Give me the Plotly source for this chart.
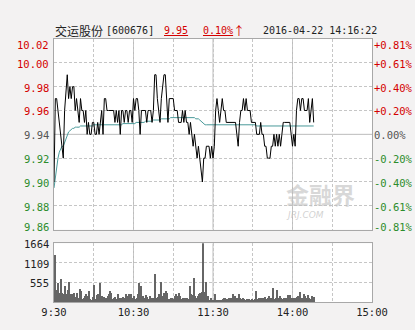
import plotly.graph_objects as go

# ---------------- data ----------------
time_ticks = [0, 30, 60, 90, 120, 150, 180, 210, 240]
time_labels = ["9:30", "", "10:30", "", "11:30", "", "14:00", "", "15:00"]

price_ticks = [10.02, 10.00, 9.98, 9.96, 9.94, 9.92, 9.90, 9.88, 9.86]
price_labels = ["10.02", "10.00", "9.98", "9.96", "9.94", "9.92", "9.90", "9.88", "9.86"]
pct_labels = ["+0.81%", "+0.61%", "+0.40%", "+0.20%", "0.00%", "-0.20%", "-0.40%", "-0.61%", "-0.81%"]
prev_close = 9.94

vol_ticks = [1664, 1109, 555]
vol_labels = ["1664", "1109", "555"]

price = [
    9.90, 9.97, 9.97, 9.96, 9.95, 9.94, 9.93, 9.92, 9.96, 9.98,
    9.99, 9.97, 9.98, 9.97, 9.98, 9.98, 9.96, 9.97, 9.96, 9.95,
    9.97, 9.96, 9.96, 9.95, 9.96, 9.94, 9.95, 9.94, 9.94, 9.95,
    9.95, 9.94, 9.94, 9.95, 9.94, 9.95, 9.96, 9.94, 9.97, 9.97,
    9.96, 9.96, 9.96, 9.96, 9.96, 9.96, 9.95, 9.96, 9.95, 9.96,
    9.94, 9.96, 9.96, 9.95, 9.96, 9.96, 9.95, 9.96, 9.96, 9.95,
    9.97, 9.96, 9.97, 9.97, 9.96, 9.94, 9.96, 9.96, 9.96, 9.96,
    9.95, 9.96, 9.96, 9.96, 9.95, 9.96, 9.99, 9.99, 9.97, 9.96,
    9.95, 9.97, 9.98, 9.99, 9.99, 9.97, 9.95, 9.97, 9.97, 9.97,
    9.97, 9.96, 9.96, 9.96, 9.95, 9.95, 9.95, 9.96, 9.95, 9.96,
    9.95, 9.95, 9.94, 9.95, 9.94, 9.93, 9.94, 9.93, 9.92, 9.93,
    9.92, 9.91, 9.90, 9.92, 9.92, 9.93, 9.93, 9.93, 9.92, 9.93,
    9.92, 9.93, 9.96, 9.97, 9.96, 9.95, 9.96, 9.97, 9.96, 9.96,
    9.95, 9.95, 9.95, 9.95, 9.95, 9.95, 9.95, 9.95, 9.94, 9.93,
    9.95, 9.96, 9.96, 9.97, 9.96, 9.97, 9.96, 9.96, 9.96, 9.95,
    9.95, 9.95, 9.95, 9.94, 9.94, 9.94, 9.95, 9.94, 9.94, 9.93,
    9.93, 9.92, 9.92, 9.92, 9.93, 9.93, 9.94, 9.93, 9.94, 9.93,
    9.94, 9.93, 9.94, 9.95, 9.95, 9.95, 9.95, 9.95, 9.95, 9.94,
    9.93, 9.94, 9.93, 9.96, 9.97, 9.97, 9.96, 9.97, 9.97, 9.96,
    9.96, 9.96, 9.97, 9.95, 9.96, 9.97, 9.95,
]

avg_price = [
    9.895, 9.905, 9.915, 9.920, 9.925, 9.928, 9.930, 9.930, 9.933, 9.937,
    9.940, 9.942, 9.943, 9.944, 9.945, 9.945, 9.946, 9.946, 9.946, 9.946,
    9.947, 9.947, 9.947, 9.947, 9.947, 9.947, 9.947, 9.947, 9.947, 9.947,
    9.948, 9.948, 9.948, 9.948, 9.948, 9.948, 9.948, 9.948, 9.948, 9.948,
    9.948, 9.948, 9.948, 9.948, 9.948, 9.948, 9.948, 9.948, 9.948, 9.948,
    9.948, 9.948, 9.949, 9.949, 9.949, 9.949, 9.949, 9.949, 9.949, 9.949,
    9.949, 9.949, 9.950, 9.950, 9.950, 9.950, 9.950, 9.950, 9.950, 9.951,
    9.951, 9.951, 9.951, 9.951, 9.951, 9.952, 9.952, 9.952, 9.952, 9.952,
    9.952, 9.953, 9.953, 9.953, 9.953, 9.953, 9.953, 9.953, 9.954, 9.954,
    9.954, 9.954, 9.954, 9.954, 9.954, 9.954, 9.954, 9.954, 9.954, 9.954,
    9.954, 9.954, 9.954, 9.954, 9.954, 9.954, 9.954, 9.953, 9.953, 9.953,
    9.952, 9.951, 9.950, 9.949, 9.948, 9.948, 9.948, 9.948, 9.948, 9.948,
    9.948, 9.948, 9.948, 9.948, 9.948, 9.948, 9.948, 9.948, 9.948, 9.948,
    9.948, 9.948, 9.948, 9.948, 9.948, 9.948, 9.948, 9.948, 9.948, 9.948,
    9.948, 9.948, 9.948, 9.948, 9.948, 9.948, 9.948, 9.948, 9.948, 9.948,
    9.948, 9.948, 9.948, 9.947, 9.947, 9.947, 9.947, 9.947, 9.947, 9.947,
    9.947, 9.947, 9.947, 9.947, 9.947, 9.947, 9.947, 9.947, 9.947, 9.947,
    9.947, 9.947, 9.947, 9.947, 9.947, 9.947, 9.947, 9.947, 9.947, 9.947,
    9.947, 9.947, 9.947, 9.947, 9.947, 9.947, 9.947, 9.947, 9.947, 9.947,
    9.947, 9.947, 9.947, 9.947, 9.947, 9.947, 9.947,
]

volume = [
    1320, 118, 325, 524, 253, 633, 235, 208, 452, 208,
    325, 551, 208, 226, 226, 235, 136, 253, 118, 362,
    298, 72, 90, 163, 208, 163, 298, 72, 27, 145,
    479, 72, 181, 208, 524, 118, 163, 145, 118, 118,
    163, 208, 298, 253, 72, 118, 145, 72, 226, 90,
    90, 118, 145, 118, 208, 163, 208, 90, 226, 90,
    163, 72, 90, 208, 542, 434, 72, 163, 118, 181,
    145, 72, 163, 90, 118, 90, 777, 118, 145, 208,
    570, 118, 163, 253, 298, 253, 72, 72, 118, 90,
    72, 163, 226, 163, 235, 163, 72, 118, 90, 118,
    90, 72, 434, 226, 181, 660, 163, 118, 163, 208,
    253, 271, 1654, 271, 570, 90, 163, 27, 90, 36,
    36, 208, 36, 36, 54, 36, 36, 72, 90, 90,
    72, 72, 108, 118, 90, 208, 163, 72, 118, 208,
    118, 72, 108, 72, 54, 72, 54, 72, 45, 72,
    45, 72, 300, 72, 90, 72, 108, 90, 108, 136,
    72, 118, 163, 90, 108, 389, 72, 108, 344, 118,
    163, 90, 72, 118, 72, 108, 181, 90, 190, 118,
    90, 118, 108, 145, 163, 271, 118, 118, 208, 163,
    90, 190, 118, 72, 163, 136, 136,
]

title_name = "交运股份"
title_code = "[600676]"
title_price = "9.95"
title_change = "0.10%"
title_arrow = "↑"
title_time = "2016-04-22 14:16:22"

# ---------------- figure ----------------
minutes = list(range(len(price)))

W, H = 415, 330
ML, MR, MT, MB = 54, 43, 39, 22
PW = W - ML - MR
PH = H - MT - MB

def px_x(xp):
    return (xp - ML) / PW

def px_y(yp):
    return (H - MB - yp) / PH

RED = "#d40000"
GREEN = "#2c8c2c"
GRAY = "#555555"
DARK = "#222222"
MONO = "DejaVu Sans Mono, Liberation Mono, monospace"
GRID = "#c6c6c6"
SOLID = "#bcbcbc"

fig = go.Figure()
fig.add_trace(go.Bar(
    x=minutes, y=volume, width=0.8, offset=0,
    marker=dict(color="#666666", line=dict(width=0)),
    xaxis="x2", yaxis="y2", hoverinfo="skip",
))
fig.add_trace(go.Scatter(
    x=minutes, y=avg_price, mode="lines",
    line=dict(color="#4a9a9a", width=1), xaxis="x", yaxis="y",
))
fig.add_trace(go.Scatter(
    x=minutes, y=price, mode="lines",
    line=dict(color="#000000", width=1), xaxis="x", yaxis="y",
))

main_bottom = px_y(234)
vol_top = px_y(248)

axis_common = dict(
    showgrid=True, gridcolor=GRID, griddash="3px,2px", gridwidth=1,
    zeroline=False, showline=True, mirror=True, linecolor="#a8a8a8",
    linewidth=1, ticks="", fixedrange=True,
)

fig.update_layout(
    width=W, height=H,
    margin=dict(l=ML, r=MR, t=MT, b=MB, pad=0),
    paper_bgcolor="#f3f2f2", plot_bgcolor="#ffffff",
    showlegend=False, bargap=0,
    font=dict(family=MONO, size=10, color=DARK),
    xaxis=dict(domain=[0, 1], range=[0, 240], anchor="y",
               tickvals=time_ticks, showticklabels=False, **axis_common),
    yaxis=dict(domain=[main_bottom, 1], range=[9.86, 10.02], anchor="x",
               tickvals=price_ticks, showticklabels=False, **axis_common),
    xaxis2=dict(domain=[0, 1], range=[0, 240], anchor="y2",
                tickvals=time_ticks, ticktext=time_labels, showticklabels=True,
                tickfont=dict(family=MONO, size=10.5, color=DARK), **axis_common),
    yaxis2=dict(domain=[0, vol_top], range=[0, 1664], anchor="x2",
                tickvals=vol_ticks, showticklabels=False, **axis_common),
)

# solid reference lines
shapes = []
for t in [60, 120, 180]:
    shapes.append(dict(type="line", xref="x", yref="y", x0=t, x1=t, y0=9.86, y1=10.02,
                       line=dict(color=SOLID, width=1), layer="below"))
    shapes.append(dict(type="line", xref="x2", yref="y2", x0=t, x1=t, y0=0, y1=1664,
                       line=dict(color=SOLID, width=1), layer="below"))
shapes.append(dict(type="line", xref="x", yref="y", x0=0, x1=240, y0=prev_close, y1=prev_close,
                   line=dict(color=SOLID, width=1), layer="below"))
fig.update_layout(shapes=shapes)

ann = []
n = len(price_ticks)
for i, (v, lab, pl) in enumerate(zip(price_ticks, price_labels, pct_labels)):
    if v > prev_close + 1e-9:
        col = RED
    elif v < prev_close - 1e-9:
        col = GREEN
    else:
        col = GRAY
    if i == 0:
        shift = -6
    elif i == n - 1:
        shift = 3
    else:
        shift = -1
    ann.append(dict(xref="paper", yref="y", x=px_x(51), y=v, text=lab, showarrow=False,
                    xanchor="right", yanchor="middle", yshift=shift,
                    font=dict(family=MONO, size=10.5, color=col)))
    ann.append(dict(xref="paper", yref="y", x=px_x(372), y=v, text=pl, showarrow=False,
                    xanchor="left", yanchor="middle", yshift=shift,
                    font=dict(family=MONO, size=10.5, color=col)))

for v, lab in zip(vol_ticks, vol_labels):
    ann.append(dict(xref="paper", yref="y2", x=px_x(51), y=v, text=lab, showarrow=False,
                    xanchor="right", yanchor="middle", yshift=-1,
                    font=dict(family=MONO, size=10.5, color=DARK)))

ty = px_y(30)
ann.append(dict(xref="paper", yref="paper", x=px_x(53), y=ty, showarrow=False,
                xanchor="left", yanchor="middle", text=title_name,
                font=dict(family="Noto Sans CJK SC", size=12, color=DARK)))
ann.append(dict(xref="paper", yref="paper", x=px_x(104), y=ty, showarrow=False,
                xanchor="left", yanchor="middle", text=title_code,
                font=dict(family=MONO, size=10, color=DARK)))
ann.append(dict(xref="paper", yref="paper", x=px_x(162), y=ty, showarrow=False,
                xanchor="left", yanchor="middle", text=f"<u>{title_price}</u>",
                font=dict(family=MONO, size=10, color=RED)))
ann.append(dict(xref="paper", yref="paper", x=px_x(201), y=ty, showarrow=False,
                xanchor="left", yanchor="middle", text=f"<u>{title_change}</u>",
                font=dict(family=MONO, size=10, color=RED)))
ann.append(dict(xref="paper", yref="paper", x=px_x(231), y=ty, showarrow=False,
                xanchor="left", yanchor="middle", text=title_arrow,
                font=dict(family="Noto Sans CJK SC", size=12, color=RED)))
ann.append(dict(xref="paper", yref="paper", x=px_x(261), y=ty, showarrow=False,
                xanchor="left", yanchor="middle", text=title_time,
                font=dict(family=MONO, size=10, color=DARK)))

# watermark
ann.append(dict(xref="paper", yref="paper", x=px_x(320), y=px_y(198), showarrow=False,
                xanchor="center", yanchor="middle", text="<b>金融界</b>",
                font=dict(family="Noto Sans CJK SC", size=23, color="rgba(190,190,190,0.6)")))
ann.append(dict(xref="paper", yref="paper", x=px_x(305), y=px_y(219), showarrow=False,
                xanchor="center", yanchor="middle", text="<i>JRJ.COM</i>",
                font=dict(family="DejaVu Sans", size=9, color="rgba(190,190,190,0.7)")))
fig.update_layout(annotations=ann)

fig.write_html("out.html")
